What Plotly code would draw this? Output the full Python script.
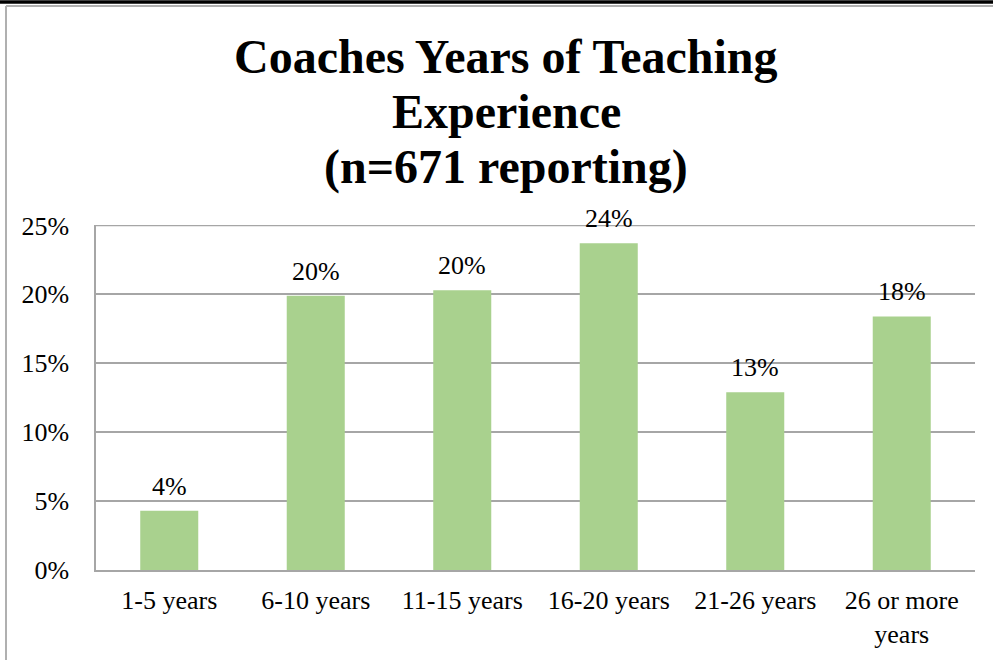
import plotly.graph_objects as go

categories = ["1-5 years", "6-10 years", "11-15 years", "16-20 years", "21-26 years", "26 or more<br>years"]
values = [4.3, 19.9, 20.3, 23.7, 12.9, 18.4]
labels = ["4%", "20%", "20%", "24%", "13%", "18%"]
tick_vals = [0, 5, 10, 15, 20, 25]
tick_text = ["0%", "5%", "10%", "15%", "20%", "25%"]
title_lines = ["Coaches Years of Teaching", "Experience", "(n=671 reporting)"]

FONT = "Liberation Serif, Times New Roman, serif"

# plot area geometry in pixels (figure 993x660)
L, R, T, B = 96, 18, 225, 90
PW, PH = 993 - L - R, 660 - T - B


def px_x(x):
    return (x - L) / PW


def px_y(y):
    return (660 - B - y) / PH


fig = go.Figure(go.Bar(
    x=categories, y=values,
    marker=dict(color="#A9D18E", line=dict(width=0)),
    hoverinfo="x+y",
))

annotations = []
for c, v, t in zip(categories, values, labels):
    annotations.append(dict(
        x=c, y=v, xref="x", yref="y", text=t, showarrow=False,
        yanchor="bottom", yshift=8,
        font=dict(family=FONT, size=26, color="black"),
    ))

for line, yc in zip(title_lines, [57, 112, 167]):
    annotations.append(dict(
        x=px_x(506), y=px_y(yc), xref="paper", yref="paper",
        text="<b>" + line + "</b>", showarrow=False,
        xanchor="center", yanchor="middle",
        font=dict(family=FONT, size=48, color="black"),
    ))

fig.update_layout(
    width=993, height=660,
    margin=dict(l=L, r=R, t=T, b=B),
    paper_bgcolor="white", plot_bgcolor="white",
    bargap=0.604,
    showlegend=False,
    font=dict(family=FONT, size=26, color="black"),
    annotations=annotations,
    xaxis=dict(
        showgrid=False, showline=True, linecolor="#A6A6A6", linewidth=1.5,
        ticks="", ticklabelstandoff=6,
        tickfont=dict(family=FONT, size=26, color="black"),
    ),
    yaxis=dict(
        range=[0, 25.03], tickvals=tick_vals, ticktext=tick_text,
        showgrid=True, gridcolor="#A6A6A6", gridwidth=1.5,
        showline=True, linecolor="#A6A6A6", linewidth=1.5,
        zeroline=False, ticks="", ticklabelstandoff=20,
        tickfont=dict(family=FONT, size=26, color="black"),
    ),
    shapes=[
        dict(type="line", xref="paper", yref="y", layer="below",
             x0=0, x1=1, y0=tick_vals[-1], y1=tick_vals[-1],
             line=dict(color="#A6A6A6", width=1.5)),
        dict(type="line", xref="paper", yref="paper",
             x0=px_x(0), x1=px_x(993), y0=px_y(2), y1=px_y(2),
             line=dict(color="black", width=3.5)),
        dict(type="line", xref="paper", yref="paper",
             x0=px_x(6), x1=px_x(993), y0=px_y(6), y1=px_y(6),
             line=dict(color="#B0B0B0", width=2)),
        dict(type="line", xref="paper", yref="paper",
             x0=px_x(6), x1=px_x(6), y0=px_y(6), y1=px_y(660),
             line=dict(color="#B0B0B0", width=2)),
    ],
)

fig.write_html("out.html", config={"displayModeBar": False},
               post_script="document.body.style.margin='0';")
